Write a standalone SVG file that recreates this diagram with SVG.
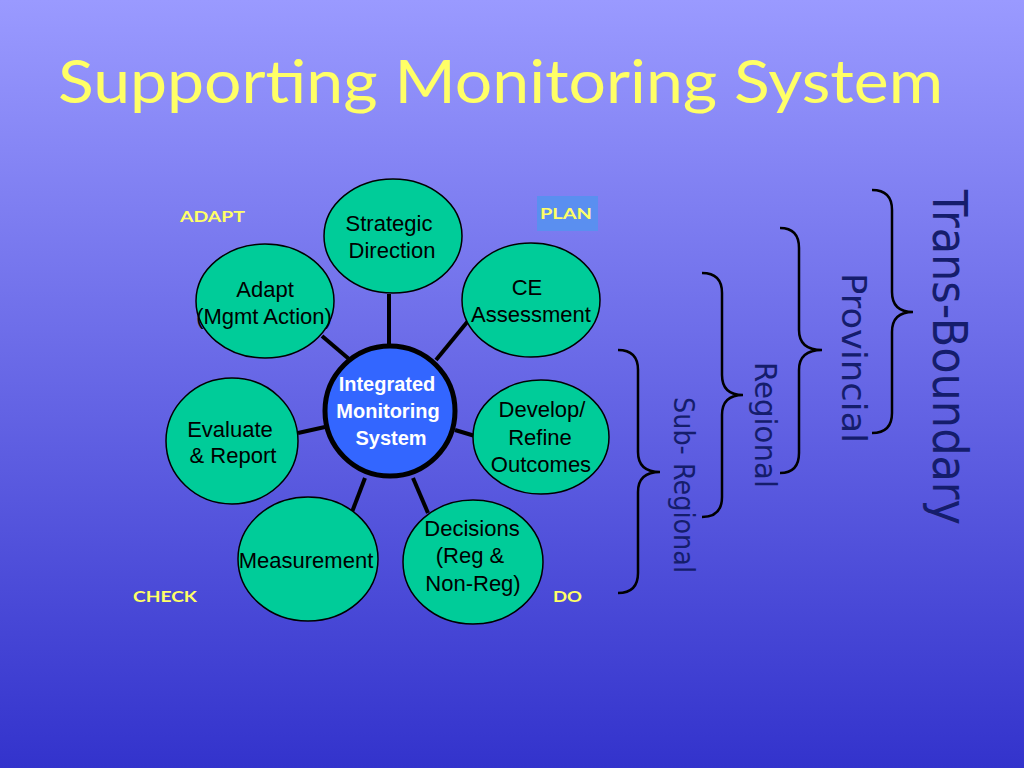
<svg xmlns="http://www.w3.org/2000/svg" width="1024" height="768" viewBox="0 0 1024 768">
<defs>
<linearGradient id="bg" x1="0" y1="0" x2="0" y2="1">
<stop offset="0" stop-color="#9a9aff"/>
<stop offset="1" stop-color="#3333cc"/>
</linearGradient>
<style>
.node{fill:#00cc99;stroke:#000;stroke-width:1.5}
.nt{font-family:"Liberation Sans",Arial,sans-serif;font-size:22px;fill:#000;text-anchor:middle}
.ct{font-family:"Liberation Sans",Arial,sans-serif;font-size:20px;font-weight:bold;fill:#fff;text-anchor:middle}
.lab{font-family:"Comic Sans MS",Lato,sans-serif;font-size:16px;font-weight:bold;fill:#ffff66}
.conn line{stroke:#000;stroke-width:4}
.brace{fill:none;stroke:#000;stroke-width:2.5}
.rot{font-family:"DejaVu Sans",sans-serif;fill:#151d6c}
</style>
</defs>
<rect width="1024" height="768" fill="url(#bg)"/>
<text x="58" y="103" font-family="Comic Sans MS,Lato,sans-serif" font-size="60" fill="#ffff66" textLength="885" lengthAdjust="spacingAndGlyphs">Supporting Monitoring System</text>

<g class="conn" id="connectors">
<line x1="389" y1="294" x2="389" y2="346"/>
<line x1="322" y1="336" x2="349" y2="359"/>
<line x1="468" y1="321" x2="436" y2="360"/>
<line x1="298" y1="433" x2="325" y2="427"/>
<line x1="455" y1="430" x2="475" y2="436"/>
<line x1="365" y1="478" x2="352" y2="512"/>
<line x1="413" y1="478" x2="428" y2="513"/>
</g>

<g id="strategic"><ellipse class="node" cx="393" cy="236" rx="69" ry="57"/>
<text class="nt" x="389" y="231">Strategic</text><text class="nt" x="392" y="258">Direction</text></g>
<g id="ce"><ellipse class="node" cx="531" cy="300" rx="69" ry="57"/>
<text class="nt" x="527" y="295">CE</text><text class="nt" x="531" y="322">Assessment</text></g>
<g id="develop"><ellipse class="node" cx="541" cy="437" rx="68" ry="57"/>
<text class="nt" x="542" y="417">Develop/</text><text class="nt" x="540" y="445">Refine</text><text class="nt" x="541" y="472">Outcomes</text></g>
<g id="decisions"><ellipse class="node" cx="473" cy="562" rx="70" ry="62"/>
<text class="nt" x="472" y="536">Decisions</text><text class="nt" x="470" y="563">(Reg &amp;</text><text class="nt" x="473" y="591">Non-Reg)</text></g>
<g id="measurement"><ellipse class="node" cx="308" cy="559" rx="70" ry="62"/>
<text class="nt" x="306" y="568">Measurement</text></g>
<g id="evaluate"><ellipse class="node" cx="232" cy="441" rx="66" ry="63"/>
<text class="nt" x="230" y="437">Evaluate</text><text class="nt" x="233" y="463">&amp; Report</text></g>
<g id="adapt"><ellipse class="node" cx="265" cy="301" rx="69" ry="57"/>
<text class="nt" x="265" y="297">Adapt</text><text class="nt" x="264" y="324">(Mgmt Action)</text></g>
<g id="center"><circle cx="390" cy="411" r="65" fill="#3366ff" stroke="#000" stroke-width="5"/>
<text class="ct" x="387" y="391">Integrated</text><text class="ct" x="388" y="418">Monitoring</text><text class="ct" x="391" y="445">System</text></g>

<g id="phase-labels">
<text class="lab" x="180" y="222" textLength="65" lengthAdjust="spacingAndGlyphs">ADAPT</text>
<rect x="537" y="196" width="61" height="35" fill="#5a8ff0"/>
<text class="lab" x="540" y="219" textLength="52" lengthAdjust="spacingAndGlyphs">PLAN</text>
<text class="lab" x="133" y="602" textLength="64" lengthAdjust="spacingAndGlyphs">CHECK</text>
<text class="lab" x="553" y="602" textLength="29" lengthAdjust="spacingAndGlyphs">DO</text>
</g>

<g id="scales">
<path class="brace" d="M872,190 Q892,190 892,210 L892,292 Q892,312 913,312 Q892,312 892,332 L892,413 Q892,433 872,433"/>
<path class="brace" d="M780,228 Q799,228 799,248 L799,330 Q799,350 822,350 Q799,350 799,370 L799,453 Q799,473 780,473"/>
<path class="brace" d="M702,273 Q722,273 722,293 L722,375 Q722,395 743,395 Q722,395 722,415 L722,497 Q722,517 702,517"/>
<path class="brace" d="M618,350 Q638,350 638,370 L638,452 Q638,472 660,472 Q638,472 638,492 L638,573 Q638,593 618,593"/>
<text class="rot" font-size="48" transform="translate(933,190) rotate(90)" textLength="335" lengthAdjust="spacingAndGlyphs">Trans-Boundary</text>
<text class="rot" font-size="34" transform="translate(842,273) rotate(90)" textLength="170" lengthAdjust="spacingAndGlyphs">Provincial</text>
<text class="rot" font-size="31" transform="translate(755,362) rotate(90)" textLength="126" lengthAdjust="spacingAndGlyphs">Regional</text>
<text class="rot" font-size="28" transform="translate(674,397) rotate(90)" textLength="176" lengthAdjust="spacingAndGlyphs">Sub- Regional</text>
</g>
</svg>
